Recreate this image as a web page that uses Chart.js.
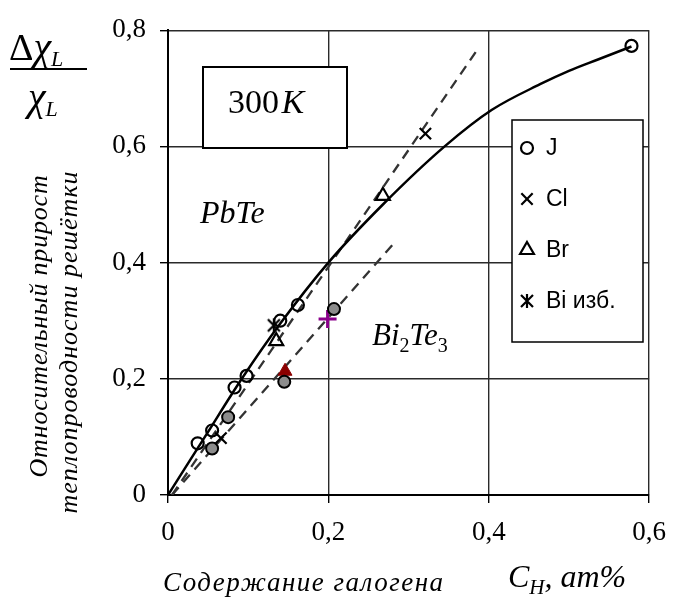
<!DOCTYPE html>
<html>
<head>
<meta charset="utf-8">
<script src="https://cdn.jsdelivr.net/npm/chart.js@4.4.1/dist/chart.umd.min.js"></script>
<style>
  html, body { margin: 0; padding: 0; background: #fff; }
  canvas { display: block; }
</style>
</head>
<body>
<canvas id="chart" width="680" height="609"></canvas>
<script>
const xTicks = [0, 0.2, 0.4, 0.6];
const yTicks = [0, 0.2, 0.4, 0.6, 0.8];

// PbTe points (open markers)
const jOpen = [[0.037, 0.089], [0.055, 0.111], [0.083, 0.185], [0.098, 0.205], [0.14, 0.30], [0.162, 0.327], [0.578, 0.773]];
const clPts = [[0.066, 0.098], [0.321, 0.622]];
const brPts = [[0.135, 0.265], [0.268, 0.515]];
const biPts = [[0.132, 0.292]];
// Bi2Te3 points (filled markers)
const jGrey = [[0.055, 0.080], [0.075, 0.134], [0.145, 0.195], [0.207, 0.32]];
const brBiTe = [[0.146, 0.213]];
const plusBiTe = [[0.199, 0.303]];

// solid curve through PbTe data
const curveX = [0, 0.046, 0.092, 0.14, 0.2, 0.268, 0.345, 0.404, 0.464, 0.5, 0.537, 0.578];
const curveY = [0, 0.1, 0.2, 0.295, 0.4, 0.5, 0.6, 0.663, 0.707, 0.73, 0.75, 0.772];
// dashed guide lines
const dashUpper = [[0.005, 0], [0.386, 0.767]];
const dashLower = [[0.005, 0], [0.284, 0.437]];

const legendNames = ['J', 'Cl', 'Br', 'Bi изб.'];

const SERIF = '"Liberation Serif", "Times New Roman", serif';
const SANS = '"Liberation Sans", Arial, sans-serif';

const pts = arr => arr.map(p => ({ x: p[0], y: p[1] }));
const fmt = v => v === 0 ? '0' : v.toFixed(1).replace('.', ',');

function zheImage() {
  const c = document.createElement('canvas');
  c.width = 16; c.height = 16;
  const g = c.getContext('2d');
  g.strokeStyle = '#000';
  g.lineWidth = 2.2;
  g.beginPath();
  g.moveTo(2, 2); g.lineTo(14, 14);
  g.moveTo(14, 2); g.lineTo(2, 14);
  g.moveTo(8, 1); g.lineTo(8, 15);
  g.stroke();
  return c;
}
const zhe = zheImage();

const legendStyles = [
  { pointStyle: 'circle', radius: 6 },
  { pointStyle: 'crossRot', radius: 8 },
  { pointStyle: 'triangle', radius: 8 },
  { pointStyle: zhe, radius: 8 }
];

function italicText(ctx, parts, x, y, spacing) {
  // parts: [text, size, italic, dy]
  let cx = x;
  ctx.letterSpacing = (spacing || 0) + 'px';
  parts.forEach(p => {
    ctx.font = (p[2] ? 'italic ' : '') + p[1] + 'px ' + SERIF;
    ctx.fillText(p[0], cx, y + (p[3] || 0));
    cx += ctx.measureText(p[0]).width;
  });
  ctx.letterSpacing = '0px';
  return cx;
}

function rotatedText(ctx, text, x, y, size, spacing) {
  ctx.save();
  ctx.translate(x, y);
  ctx.rotate(-Math.PI / 2);
  ctx.textAlign = 'center';
  ctx.textBaseline = 'middle';
  ctx.letterSpacing = spacing + 'px';
  ctx.font = 'italic ' + size + 'px ' + SERIF;
  ctx.fillText(text, 0, 0);
  ctx.restore();
}

const decorations = {
  id: 'decorations',
  afterDraw(chart) {
    const ctx = chart.ctx;
    ctx.save();
    ctx.fillStyle = '#000';
    ctx.strokeStyle = '#000';
    ctx.textBaseline = 'alphabetic';
    ctx.textAlign = 'left';

    // 300 K box
    ctx.fillStyle = '#fff';
    ctx.fillRect(203, 67, 144, 81);
    ctx.lineWidth = 2;
    ctx.strokeRect(203, 67, 144, 81);
    ctx.fillStyle = '#000';
    italicText(ctx, [['300', 34, false], [' ', 10, false], ['K', 34, true]], 228, 113);

    // compound labels
    italicText(ctx, [['PbTe', 32, true]], 200, 223);
    italicText(ctx, [['Bi', 31, true], ['2', 20, false, 7], ['Te', 31, true], ['3', 20, false, 7]], 372, 345);

    // legend box
    ctx.fillStyle = '#fff';
    ctx.fillRect(512, 120, 131, 222);
    ctx.lineWidth = 1.5;
    ctx.strokeRect(512, 120, 131, 222);
    const H = Chart.helpers;
    legendNames.forEach((name, i) => {
      const y = 148 + i * 51;
      ctx.strokeStyle = '#000';
      ctx.fillStyle = 'rgba(0,0,0,0)';
      ctx.lineWidth = 2.2;
      const st = legendStyles[i];
      H.drawPoint(ctx, { pointStyle: st.pointStyle, radius: st.radius, borderWidth: 2.2, rotation: 0 }, 527, y);
      ctx.fillStyle = '#000';
      ctx.font = '23px ' + SANS;
      ctx.textBaseline = 'middle';
      ctx.fillText(name, 546, y + 1);
      ctx.textBaseline = 'alphabetic';
    });

    // y-axis fraction
    ctx.fillStyle = '#000';
    italicText(ctx, [['Δ', 38, false], ['χ', 40, true], ['L', 22, true, 6]], 9, 60);
    ctx.lineWidth = 2;
    ctx.beginPath();
    ctx.moveTo(10, 69); ctx.lineTo(87, 69);
    ctx.stroke();
    italicText(ctx, [['χ', 40, true], ['L', 22, true, 6]], 28, 110);

    // y-axis title (rotated)
    rotatedText(ctx, 'Относительный прирост', 40, 326, 26, 0.8);
    rotatedText(ctx, 'теплопроводности решётки', 70, 342, 26, 1);

    // x-axis title
    italicText(ctx, [['Содержание галогена', 27, true]], 163, 591, 1.5);
    italicText(ctx, [['C', 32, true], ['H', 21, true, 7], [', ат%', 32, true]], 508, 587);

    ctx.restore();
  }
};

new Chart(document.getElementById('chart'), {
  type: 'scatter',
  data: {
    datasets: [
      {
        label: 'J', data: pts(jOpen), pointStyle: 'circle', pointRadius: 6,
        borderColor: '#000', backgroundColor: 'rgba(0,0,0,0)', pointBorderWidth: 2.2
      },
      {
        label: 'J Bi2Te3', data: pts(jGrey), pointStyle: 'circle', pointRadius: 6,
        borderColor: '#000', backgroundColor: '#8c8c8c', pointBorderWidth: 2
      },
      {
        label: 'Cl', data: pts(clPts), pointStyle: 'crossRot', pointRadius: 8,
        borderColor: '#000', pointBorderWidth: 2.2
      },
      {
        label: 'Br', data: pts(brPts), pointStyle: 'triangle', pointRadius: 8,
        borderColor: '#000', backgroundColor: 'rgba(0,0,0,0)', pointBorderWidth: 2.2
      },
      {
        label: 'Bi изб.', data: pts(biPts), pointStyle: zhe, pointRadius: 8
      },
      {
        label: 'Br Bi2Te3', data: pts(brBiTe), pointStyle: 'triangle', pointRadius: 8,
        borderColor: '#8b0000', backgroundColor: '#8b0000', pointBorderWidth: 1
      },
      {
        label: 'plus', data: pts(plusBiTe), pointStyle: 'cross', pointRadius: 9,
        borderColor: '#8b008b', pointBorderWidth: 3
      },
      {
        type: 'line', label: 'curve',
        data: curveX.map((x, i) => ({ x, y: curveY[i] })),
        borderColor: '#000', borderWidth: 2.5, pointRadius: 0,
        cubicInterpolationMode: 'monotone', fill: false
      },
      {
        type: 'line', label: 'upper', data: pts(dashUpper),
        borderColor: '#333', borderWidth: 2.3, borderDash: [10, 7], pointRadius: 0, fill: false
      },
      {
        type: 'line', label: 'lower', data: pts(dashLower),
        borderColor: '#333', borderWidth: 2.3, borderDash: [10, 7], pointRadius: 0, fill: false
      }
    ]
  },
  options: {
    responsive: false,
    animation: false,
    devicePixelRatio: 1,
    layout: { padding: { left: 0, top: 28, right: 22, bottom: 0 } },
    plugins: { legend: { display: false }, tooltip: { enabled: false } },
    scales: {
      x: {
        type: 'linear', min: 0, max: 0.6,
        afterBuildTicks: s => { s.ticks = xTicks.map(v => ({ value: v })); },
        afterFit: s => { s.height = 114; },
        ticks: {
          callback: v => fmt(v), color: '#000', padding: 14,
          font: { family: SERIF, size: 27 }, maxRotation: 0
        },
        grid: { color: '#2a2a2a', lineWidth: 1.4, tickLength: 8, tickColor: '#000' },
        border: { color: '#000', width: 2 }
      },
      y: {
        type: 'linear', min: 0, max: 0.8,
        afterBuildTicks: s => { s.ticks = yTicks.map(v => ({ value: v })); },
        afterFit: s => { s.width = 168; },
        ticks: {
          callback: v => fmt(v), color: '#000', padding: 14,
          font: { family: SERIF, size: 27 }
        },
        grid: { color: '#2a2a2a', lineWidth: 1.4, tickLength: 8, tickColor: '#000' },
        border: { color: '#000', width: 2 }
      }
    }
  },
  plugins: [decorations]
});
</script>
</body>
</html>
